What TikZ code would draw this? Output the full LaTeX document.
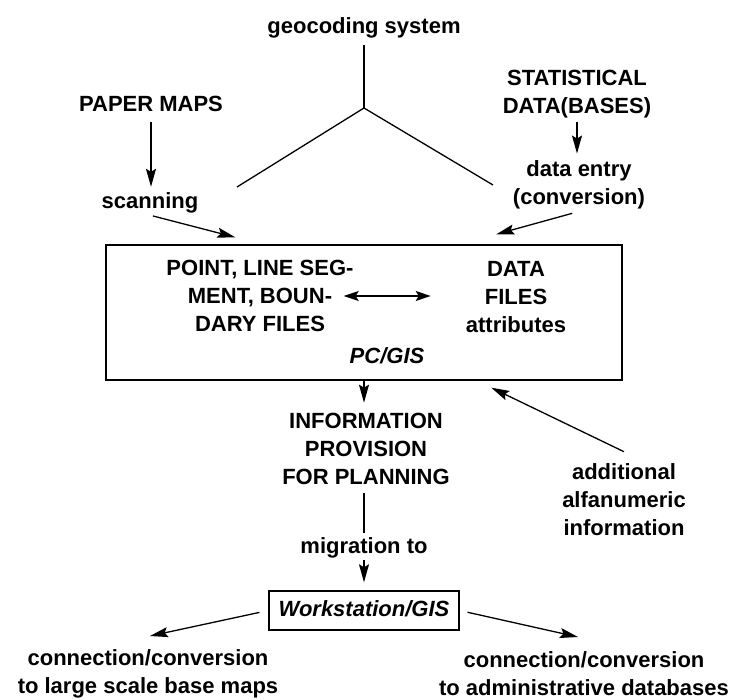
\documentclass[tikz,border=0pt]{standalone}
\usepackage{fontspec}
\setmainfont{Liberation Sans}
\usetikzlibrary{arrows.meta}

\begin{document}
\begin{tikzpicture}[x=1pt, y=-1pt,
    txt/.style={font={\bfseries\fontsize{22}{28}\selectfont}, align=center, inner sep=2pt},
    one/.style={txt, text height=16pt, text depth=4pt},
    link/.style={line width=1.3pt},
    arr/.style={link, -{Stealth[length=18pt, width=10pt, inset=3pt]}},
    dbl/.style={link, {Stealth[length=15pt, width=10pt, inset=3pt]}-{Stealth[length=15pt, width=10pt, inset=3pt]}},
    frame/.style={draw, line width=1.4pt}]

    \useasboundingbox (0,0) rectangle (732,700);

    \node [one] (geo) at (364,28) {geocoding system};
    \node [one] (paper) at (151,106) {PAPER MAPS};
    \node [one] (scan) at (150,203) {scanning};
    \node [txt] (stat) at (577,94) {STATISTICAL\\DATA(BASES)};
    \node [txt] (entry) at (579,185) {data entry\\(conversion)};

    \node [frame, minimum width=516pt, minimum height=135pt] (pc) at (364,312.5) {};
    \node [txt] (seg) at (260,296) {POINT, LINE SEG-\\MENT, BOUN-\\DARY FILES};
    \node [txt] (data) at (516,297) {DATA\\FILES\\attributes};
    \node [one] (gis) at (387,358) {\itshape PC/GIS};

    \node [txt] (info) at (366,449) {INFORMATION\\PROVISION\\FOR PLANNING};
    \node [txt] (add) at (624,500) {additional\\alfanumeric\\information};
    \node [one] (migr) at (364,548) {migration to};
    \node [one, frame, minimum width=190pt, minimum height=39pt] (ws) at (364,610.5) {\itshape Workstation/GIS};

    \node [txt] (conL) at (148,674) {connection/conversion\\to large scale base maps};
    \node [txt] (conR) at (584,674) {connection/conversion\\to administrative databases};

    \coordinate (apex) at (364,108);
    \coordinate (gleft) at (237,187);
    \coordinate (gright) at (493,185);
    \coordinate (conLtip) at (150,636);
    \coordinate (conRtip) at (578,637);

    \draw [link, shorten <=5pt] (geo.south) -- (apex);
    \draw [link] (gleft) -- (apex) -- (gright);

    \draw [arr, shorten <=4pt, shorten >=4pt] (paper.south) -- (paper.south |- scan.north);
    \draw [arr, shorten <=3pt] (scan.south) -- ([xshift=130pt, yshift=7pt]pc.north west);
    \draw [arr, shorten <=2pt, shorten >=5pt] (stat.south) -- (stat.south |- entry.north);
    \draw [arr, shorten <=7pt] (entry.south) -- ([xshift=391pt, yshift=10pt]pc.north west);

    \draw [dbl] ([xshift=-12pt]seg.east) -- ([xshift=-33pt]data.west |- seg.east);

    \draw [arr] (pc.south) -- ++(0,22);
    \draw [arr] ([yshift=10pt]add.north) -- ([xshift=386pt, yshift=-7pt]pc.south west);
    \draw [link, shorten <=6pt, shorten >=3pt] (migr.north |- info.south) -- (migr.north);
    \draw [arr, shorten >=8pt] (migr.south) -- (ws.north);

    \draw [arr, shorten <=9pt] (ws.west) -- (conLtip);
    \draw [arr, shorten <=8pt] (ws.east) -- (conRtip);
\end{tikzpicture}
\end{document}
